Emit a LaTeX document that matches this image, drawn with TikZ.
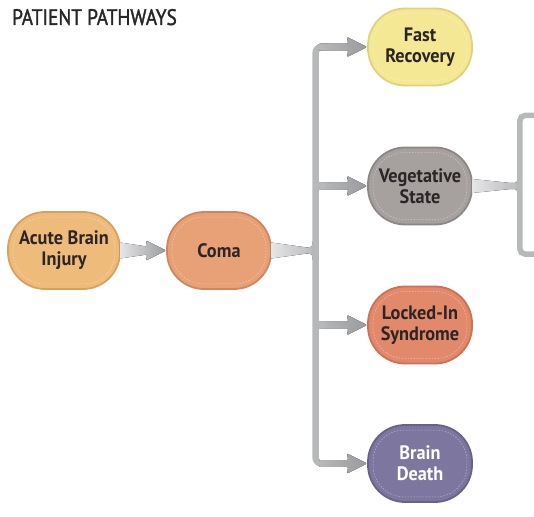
\documentclass[tikz,border=0pt]{standalone}
\usepackage{fontspec}
\setmainfont{PT Sans}
\newfontfamily\titlefont{PT Sans}[FakeStretch=0.86, FakeBold=1.6]
\newfontfamily\nodefont{PT Sans}[FakeStretch=0.94]
\usetikzlibrary{calc}
\definecolor{txt}{HTML}{2A2526}
\definecolor{cAcute}{HTML}{EFBB7B}
\definecolor{dAcute}{HTML}{D9A160}
\definecolor{cComa}{HTML}{E8A076}
\definecolor{dComa}{HTML}{D0865E}
\definecolor{cFast}{HTML}{F4E895}
\definecolor{dFast}{HTML}{E0D27A}
\definecolor{cVeg}{HTML}{A6A19F}
\definecolor{dVeg}{HTML}{8C8785}
\definecolor{cLock}{HTML}{E3896B}
\definecolor{dLock}{HTML}{CB7154}
\definecolor{cDeath}{HTML}{7D77A0}
\definecolor{dDeath}{HTML}{68628B}
\definecolor{busgray}{HTML}{B7B8BA}
\definecolor{headgray}{HTML}{9A9B9E}
\definecolor{wedgelight}{HTML}{E6E6E8}
\begin{document}
\begin{tikzpicture}[x=1bp,y=-1bp,
  state/.style={rounded corners=37bp, minimum width=104bp, minimum height=77bp,
    inner sep=0pt, align=center, text=txt, line width=1.8bp,
    font=\nodefont\bfseries\fontsize{19.5}{21}\selectfont},
  innerline/.style={draw=white, draw opacity=0.45, line width=0.5bp,
    dash pattern=on 1.5bp off 1.5bp, rounded corners=31bp},
  bus/.style={draw=busgray, line width=6.5bp, rounded corners=6bp},
  bracketline/.style={draw=busgray, line width=5.5bp, rounded corners=5bp},
  headshade/.style={left color=busgray, right color=headgray, draw=none},
  wedgeshade/.style={left color=wedgelight, right color=headgray, draw=none},
  wedgeshadeB/.style={left color=wedgelight, right color=busgray, draw=none},
]
\useasboundingbox (0,0) rectangle (534,517);

\node[anchor=base west, text=txt, font=\titlefont\fontsize{22.5}{24}\selectfont, inner sep=0pt]
  (title) at (12,25) {PATIENT PATHWAYS};

% nodes
\node[state, fill=cAcute, draw=dAcute, minimum width=112bp] (acute) at (64,250.5) {Acute Brain\\Injury};
\node[state, fill=cComa, draw=dComa] (coma) at (219,250.5) {Coma};
\node[state, fill=cFast, draw=dFast] (fast) at (420,47) {Fast\\Recovery};
\node[state, fill=cVeg, draw=dVeg] (veg) at (420,186) {Vegetative\\State};
\node[state, fill=cLock, draw=dLock] (lock) at (420,325) {Locked-In\\Syndrome};
\node[state, fill=cDeath, draw=dDeath, text=white] (death) at (420,463.5) {Brain\\Death};

\foreach \n in {acute,coma,fast,veg,lock,death}{
  \draw[innerline] ($(\n.north west)+(6,6)$) rectangle ($(\n.south east)+(-6,-6)$);
}

% Acute -> Coma arrow
\fill[wedgeshade, rounded corners=1bp]
  ($(acute.east)+(-1,-8)$) -- ($(coma.west)+(-19,-4)$) -- ($(coma.west)+(-20,-10)$)
  -- (coma.west) -- ($(coma.west)+(-20,10)$) -- ($(coma.west)+(-19,4)$)
  -- ($(acute.east)+(-1,8)$) -- cycle;

\coordinate (bustop) at ($(fast.west)+(-51.5,0)$);
\coordinate (busbot) at ($(death.west)+(-51.5,0)$);

% Coma -> bus wedge (under the bus)
\coordinate (jc) at (bustop |- coma.east);
\fill[wedgeshadeB]
  ($(coma.east)+(-1,-8)$) -- ($(jc)+(-10,-3.2)$) .. controls ($(jc)+(-3.2,-3.2)$) .. ($(jc)+(-3.2,-9)$)
  -- ($(jc)+(0,-9)$) -- ($(jc)+(0,9)$) -- ($(jc)+(-3.2,9)$)
  .. controls ($(jc)+(-3.2,3.2)$) .. ($(jc)+(-10,3.2)$) -- ($(coma.east)+(-1,8)$) -- cycle;

% bus
\draw[bus] ($(fast.west)+(-38,0)$) -- (bustop) -- (busbot) -- ($(death.west)+(-38,0)$);

% branches
\foreach \n/\fl in {fast/0,veg/1,lock/1,death/0}{
  \coordinate (jb) at (bustop |- \n.west);
  \fill[headshade, rounded corners=1bp]
    ($(jb)+(3,-3.3)$) -- ($(\n.west)+(-19,-3.3)$) -- ($(\n.west)+(-20,-10)$)
    -- (\n.west) -- ($(\n.west)+(-20,10)$) -- ($(\n.west)+(-19,3.3)$)
    -- ($(jb)+(3,3.3)$) -- cycle;
  \ifnum\fl=1
    \fill[busgray] ($(jb)+(2,-9)$) .. controls ($(jb)+(3.2,-3.2)$) .. ($(jb)+(10,-3.3)$)
      -- ($(jb)+(10,3.3)$) .. controls ($(jb)+(3.2,3.2)$) .. ($(jb)+(2,9)$) -- cycle;
  \fi
}

% Vegetative -> bracket
\coordinate (brkT) at ($(veg.east)+(47,-70.5)$);
\coordinate (brkB) at ($(veg.east)+(47,68)$);
\coordinate (brkTe) at ($(brkT)+(20,0)$);
\coordinate (brkBe) at ($(brkB)+(20,0)$);
\coordinate (jv) at (brkT |- veg.east);
\fill[wedgeshadeB]
  ($(veg.east)+(-1,-7)$) -- ($(jv)+(-9,-3)$) .. controls ($(jv)+(-2.7,-3)$) .. ($(jv)+(-2.7,-8)$)
  -- ($(jv)+(0,-8)$) -- ($(jv)+(0,8)$) -- ($(jv)+(-2.7,8)$)
  .. controls ($(jv)+(-2.7,3)$) .. ($(jv)+(-9,3)$) -- ($(veg.east)+(-1,7)$) -- cycle;
\draw[bracketline] (brkTe) -- (brkT) -- (brkB) -- (brkBe);
\end{tikzpicture}
\end{document}
